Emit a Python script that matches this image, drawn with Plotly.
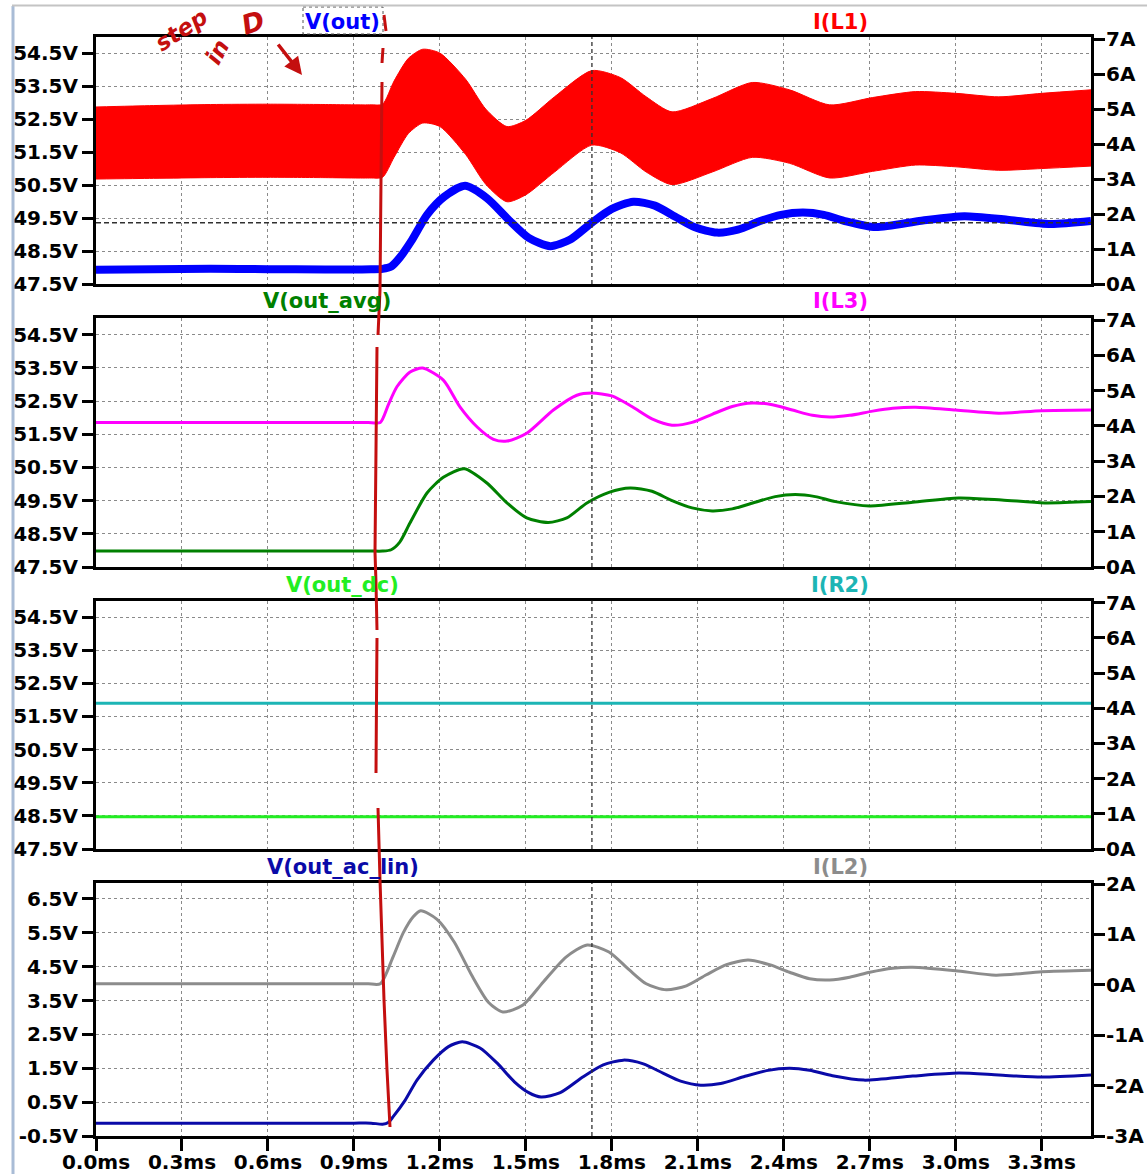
import plotly.graph_objects as go

# page (browser window) size; body margin is removed by a post script
W, H = 1147, 1174
OFF = 0
FW, FH = W - OFF, H - OFF

# ------------------------------------------------------------------ data
TIME_MAX_MS = 3.472
X_TICKS = [0.0, 0.3, 0.6, 0.9, 1.2, 1.5, 1.8, 2.1, 2.4, 2.7, 3.0, 3.3]
X_TICK_TEXT = ["0.0ms", "0.3ms", "0.6ms", "0.9ms", "1.2ms", "1.5ms", "1.8ms",
               "2.1ms", "2.4ms", "2.7ms", "3.0ms", "3.3ms"]

V_TICKS = [47.5, 48.5, 49.5, 50.5, 51.5, 52.5, 53.5, 54.5]
V_TICK_TEXT = ["47.5V", "48.5V", "49.5V", "50.5V", "51.5V", "52.5V", "53.5V", "54.5V"]
A_TICKS = [0, 1, 2, 3, 4, 5, 6, 7]
A_TICK_TEXT = ["0A", "1A", "2A", "3A", "4A", "5A", "6A", "7A"]

V_TICKS_AC = [-0.5, 0.5, 1.5, 2.5, 3.5, 4.5, 5.5, 6.5]
V_TICK_TEXT_AC = ["-0.5V", "0.5V", "1.5V", "2.5V", "3.5V", "4.5V", "5.5V", "6.5V"]
A_TICKS_AC = [-3, -2, -1, 0, 1, 2]
A_TICK_TEXT_AC = ["-3A", "-2A", "-1A", "0A", "1A", "2A"]

# panel 1: V(out) (thick, switching ripple) and I(L1) ripple envelope
T_VOUT = [0.0, 0.2, 0.4, 0.6, 0.8, 0.9, 0.96, 1.0, 1.03, 1.06, 1.1, 1.155, 1.215,
          1.288, 1.365, 1.44, 1.51, 1.585, 1.655, 1.73, 1.80, 1.875, 1.95, 2.02,
          2.09, 2.167, 2.24, 2.32, 2.39, 2.467, 2.54, 2.61, 2.72, 2.88, 3.03,
          3.18, 3.33, 3.472]
V_OUT = [47.93, 47.95, 47.96, 47.95, 47.94, 47.94, 47.95, 47.96, 48.03, 48.3,
         48.8, 49.6, 50.15, 50.48, 50.1, 49.45, 48.9, 48.65, 48.85, 49.36, 49.78,
         50.0, 49.88, 49.55, 49.22, 49.06, 49.15, 49.42, 49.6, 49.67, 49.6, 49.42,
         49.23, 49.42, 49.56, 49.45, 49.32, 49.41]

T_IL1 = [0.0, 0.2, 0.4, 0.6, 0.8, 0.9, 0.96, 1.0, 1.04, 1.09, 1.14, 1.2, 1.29,
         1.36, 1.434, 1.5, 1.6, 1.73, 1.83, 1.92, 2.01, 2.15, 2.29, 2.42, 2.56,
         2.71, 2.86, 3.0, 3.15, 3.3, 3.472]
IL1_UPPER = [5.06, 5.1, 5.13, 5.14, 5.13, 5.12, 5.12, 5.14, 5.8, 6.45, 6.71,
             6.6, 5.85, 5.0, 4.5, 4.68, 5.35, 6.1, 5.9, 5.35, 4.92, 5.3, 5.76,
             5.55, 5.12, 5.33, 5.5, 5.45, 5.35, 5.45, 5.55]
IL1_LOWER = [3.0, 3.02, 3.04, 3.05, 3.04, 3.03, 3.03, 3.05, 3.62, 4.3, 4.6, 4.5,
             3.7, 2.85, 2.35, 2.55, 3.2, 3.97, 3.75, 3.2, 2.84, 3.2, 3.62, 3.45,
             3.03, 3.22, 3.4, 3.35, 3.25, 3.3, 3.37]

# panel 2: V(out_avg), I(L3)
T_AVG = [0.0, 0.2, 0.4, 0.6, 0.8, 0.9, 0.96, 1.0, 1.03, 1.06, 1.096, 1.155,
         1.212, 1.285, 1.364, 1.434, 1.503, 1.578, 1.643, 1.713, 1.79, 1.864,
         1.94, 2.01, 2.08, 2.15, 2.22, 2.3, 2.37, 2.44, 2.51, 2.58, 2.7, 2.85,
         3.01, 3.16, 3.31, 3.472]
V_AVG = [47.98, 47.98, 47.98, 47.98, 47.98, 47.98, 47.98, 47.98, 48.02, 48.25,
         48.83, 49.73, 50.2, 50.46, 50.03, 49.43, 48.98, 48.84, 48.98, 49.43,
         49.75, 49.88, 49.78, 49.5, 49.28, 49.19, 49.25, 49.45, 49.62, 49.68,
         49.62, 49.47, 49.34, 49.45, 49.58, 49.52, 49.43, 49.47]

T_L3 = [0.0, 0.2, 0.4, 0.6, 0.8, 0.9, 0.95, 0.992, 1.02, 1.05, 1.096, 1.14,
        1.212, 1.27, 1.33, 1.387, 1.434, 1.503, 1.596, 1.678, 1.73, 1.8, 1.87,
        1.94, 2.01, 2.08, 2.15, 2.22, 2.29, 2.36, 2.43, 2.5, 2.56, 2.63, 2.71,
        2.78, 2.86, 3.0, 3.15, 3.3, 3.472]
I_L3 = [4.1, 4.1, 4.1, 4.1, 4.1, 4.1, 4.1, 4.1, 4.6, 5.11, 5.53, 5.64, 5.3, 4.54,
        3.97, 3.62, 3.57, 3.79, 4.45, 4.87, 4.93, 4.85, 4.55, 4.2, 4.02, 4.1,
        4.33, 4.55, 4.65, 4.6, 4.45, 4.3, 4.25, 4.3, 4.42, 4.5, 4.53, 4.45, 4.36,
        4.43, 4.45]

# panel 3: V(out_dc), I(R2)
T_DC = [0.0, 3.472]
V_DC = [48.47, 48.47]
I_R2 = [4.14, 4.14]

# panel 4: V(out_ac_lin), I(L2)
T_AC = [0.0, 0.2, 0.4, 0.6, 0.8, 0.9, 0.96, 1.0, 1.02, 1.037, 1.079, 1.12,
        1.177, 1.23, 1.278, 1.34, 1.4, 1.46, 1.51, 1.553, 1.62, 1.7, 1.77, 1.84,
        1.91, 1.98, 2.04, 2.11, 2.18, 2.26, 2.34, 2.42, 2.49, 2.57, 2.68, 2.85,
        3.01, 3.15, 3.3, 3.472]
V_AC = [-0.12, -0.12, -0.12, -0.12, -0.12, -0.12, -0.12, -0.15, -0.1, 0.07, 0.56,
        1.15, 1.74, 2.14, 2.28, 2.1, 1.65, 1.1, 0.78, 0.65, 0.78, 1.25, 1.6, 1.74,
        1.63, 1.35, 1.12, 1.0, 1.05, 1.25, 1.43, 1.5, 1.44, 1.28, 1.15, 1.27,
        1.36, 1.3, 1.24, 1.3]

T_L2 = [0.0, 0.2, 0.4, 0.6, 0.8, 0.9, 0.95, 0.992, 1.037, 1.072, 1.107, 1.133,
        1.19, 1.25, 1.31, 1.37, 1.42, 1.49, 1.56, 1.64, 1.714, 1.79, 1.86, 1.92,
        1.99, 2.06, 2.13, 2.2, 2.275, 2.35, 2.42, 2.49, 2.56, 2.63, 2.7, 2.78,
        2.85, 3.0, 3.14, 3.3, 3.472]
I_L2 = [0.02, 0.02, 0.02, 0.02, 0.02, 0.02, 0.02, 0.02, 0.56, 1.03, 1.35, 1.47,
        1.3, 0.85, 0.2, -0.35, -0.54, -0.4, 0.05, 0.55, 0.79, 0.65, 0.3, 0.02,
        -0.1, -0.02, 0.2, 0.4, 0.49, 0.4, 0.25, 0.12, 0.095, 0.15, 0.25, 0.33,
        0.35, 0.28, 0.19, 0.26, 0.29]

CURSOR_T = 1.7305
CURSOR_V = 49.36

# ------------------------------------------------------------------ layout helpers
def px(x, y):
    """page pixel -> paper coordinates of the figure"""
    return (x - OFF) / FW, 1 - (y - OFF) / FH


def xn(i):
    return "x" if i == 1 else f"x{i}"


def yn(i):
    return "y" if i == 1 else f"y{i}"


FONT = "DejaVu Sans"
X_DOM = [px(96, 0)[0], px(1091, 0)[0]]
PANELS = [  # (top px, bottom px) on the page
    (37, 284), (318, 567), (600.5, 849), (883, 1136)
]

fig = go.Figure()

GRID = dict(showgrid=True, gridcolor="#8a8a8a", griddash="3px,3px", gridwidth=1.2)
TICKFONT = dict(family=FONT, size=20, color="black", weight="bold")

layout = dict(
    width=FW, height=FH, autosize=False,
    margin=dict(l=0, r=0, t=0, b=0, pad=0),
    paper_bgcolor="white", plot_bgcolor="white",
    showlegend=False,
)

for i, (top, bot) in enumerate(PANELS, start=1):
    ydom = [px(0, bot)[1], px(0, top)[1]]
    base = 2 * i - 1
    over = 2 * i
    xa = dict(domain=X_DOM, range=[0, TIME_MAX_MS], anchor=yn(base), automargin=False,
              tickvals=X_TICKS, ticktext=X_TICK_TEXT, zeroline=False,
              showline=True, mirror=True, linecolor="black", linewidth=3,
              **GRID)
    if i == 4:
        xa.update(ticks="outside", ticklen=12, tickwidth=3, tickcolor="black",
                  tickfont=TICKFONT, showticklabels=True, ticklabelstandoff=-6)
    else:
        xa.update(ticks="", showticklabels=False)
    layout["xaxis" if i == 1 else f"xaxis{i}"] = xa
    if i < 4:
        arng, atv, att = [0, 7.06], A_TICKS, A_TICK_TEXT
        vrng, vtv, vtt = [47.5, 55.0], V_TICKS, V_TICK_TEXT
    else:
        arng, atv, att = [-3, 2.02], A_TICKS_AC, A_TICK_TEXT_AC
        vrng, vtv, vtt = [-0.5, 6.97], V_TICKS_AC, V_TICK_TEXT_AC
    layout["yaxis" if base == 1 else f"yaxis{base}"] = dict(
        domain=ydom, anchor=xn(i), side="right", range=arng, automargin=False,
        tickvals=atv, ticktext=att, showgrid=False, zeroline=False,
        showline=True, linecolor="black", linewidth=3,
        ticks="outside", ticklen=11, tickwidth=3, tickcolor="black",
        tickfont=TICKFONT, ticklabelstandoff=-3)
    layout[f"yaxis{over}"] = dict(
        domain=ydom, anchor=xn(i), side="left", overlaying=yn(base), automargin=False,
        range=vrng, tickvals=vtv, ticktext=vtt, zeroline=False,
        showline=True, linecolor="black", linewidth=3,
        ticks="outside", ticklen=11, tickwidth=3, tickcolor="black",
        tickfont=TICKFONT, ticklabelstandoff=0, **GRID)

fig.update_layout(**layout)

SPL = dict(shape="spline", smoothing=0.7)

# panel 1
fig.add_trace(go.Scatter(x=T_IL1, y=IL1_LOWER, xaxis=xn(1), yaxis=yn(1), mode="lines",
                         line=dict(color="#ff0000", width=1, **SPL), hoverinfo="skip"))
fig.add_trace(go.Scatter(x=T_IL1, y=IL1_UPPER, xaxis=xn(1), yaxis=yn(1), mode="lines",
                         line=dict(color="#ff0000", width=1, **SPL), fill="tonexty",
                         fillcolor="#ff0000", name="I(L1)"))
fig.add_trace(go.Scatter(x=T_VOUT, y=V_OUT, xaxis=xn(1), yaxis=yn(2), mode="lines",
                         line=dict(color="#0000ff", width=8, **SPL), name="V(out)"))
# panel 2
fig.add_trace(go.Scatter(x=T_L3, y=I_L3, xaxis=xn(2), yaxis=yn(3), mode="lines",
                         line=dict(color="#ff00ff", width=3, **SPL), name="I(L3)"))
fig.add_trace(go.Scatter(x=T_AVG, y=V_AVG, xaxis=xn(2), yaxis=yn(4), mode="lines",
                         line=dict(color="#008000", width=3, **SPL), name="V(out_avg)"))
# panel 3
fig.add_trace(go.Scatter(x=T_DC, y=I_R2, xaxis=xn(3), yaxis=yn(5), mode="lines",
                         line=dict(color="#1cb5b5", width=3), name="I(R2)"))
fig.add_trace(go.Scatter(x=T_DC, y=V_DC, xaxis=xn(3), yaxis=yn(6), mode="lines",
                         line=dict(color="#22ee22", width=3), name="V(out_dc)"))
# panel 4
fig.add_trace(go.Scatter(x=T_L2, y=I_L2, xaxis=xn(4), yaxis=yn(7), mode="lines",
                         line=dict(color="#8c8c8c", width=3, **SPL), name="I(L2)"))
fig.add_trace(go.Scatter(x=T_AC, y=V_AC, xaxis=xn(4), yaxis=yn(8), mode="lines",
                         line=dict(color="#0a0aa8", width=3, **SPL), name="V(out_ac_lin)"))

# ------------------------------------------------------------------ trace labels
LABELS = [
    ("V(out)", "#0000ff", 342.5, 21.5), ("I(L1)", "#ff0000", 840, 21.5),
    ("V(out_avg)", "#008000", 327, 301), ("I(L3)", "#ff00ff", 840, 301),
    ("V(out_dc)", "#22ee22", 342.5, 585), ("I(R2)", "#1cb5b5", 840, 585),
    ("V(out_ac_lin)", "#0a0aa8", 342.5, 867), ("I(L2)", "#8c8c8c", 840, 867),
]
for txt, col, x, y in LABELS:
    ax, ay = px(x, y)
    fig.add_annotation(text=txt, x=ax, y=ay, xref="paper", yref="paper",
                       showarrow=False, xanchor="center", yanchor="middle",
                       font=dict(family=FONT, size=21, color=col, weight="bold"))

shapes = []
# selection box around V(out)
x0, y0 = px(303, 7)
x1, y1 = px(383, 34)
shapes.append(dict(type="rect", xref="paper", yref="paper", x0=x0, y0=y0, x1=x1, y1=y1,
                   line=dict(color="#555", width=1, dash="dot")))
# cursor
for i in range(1, 5):
    shapes.append(dict(type="line", xref=xn(i), yref=f"{yn(2*i-1)} domain",
                       x0=CURSOR_T, x1=CURSOR_T, y0=0, y1=1,
                       line=dict(color="#303030", width=1.3, dash="4px,3px")))
shapes.append(dict(type="line", xref="x domain", yref=yn(2), x0=0, x1=1,
                   y0=CURSOR_V, y1=CURSOR_V,
                   line=dict(color="#303030", width=1.5, dash="5px,3px")))

# hand-drawn red marker line
HAND = "#c40f0f"
SEGMENTS = [
    [(384, 15), (386, 31)],
    [(383, 48), (382, 63)],
    [(382, 82), (381, 180), (380, 290), (378, 335)],
    [(377, 347), (376, 450), (375, 552), (376, 583), (377, 630)],
    [(377, 638), (376.5, 700), (376, 773)],
    [(378, 808), (380, 880), (384, 1000), (387, 1070), (390, 1127)],
]
for seg in SEGMENTS:
    pts = [px(a, b) for a, b in seg]
    path = "M " + " L ".join(f"{a:.5f},{b:.5f}" for a, b in pts)
    shapes.append(dict(type="path", xref="paper", yref="paper", path=path,
                       line=dict(color=HAND, width=3)))

# handwriting ("step in D") and arrow
HW = [("step", 181, 30, -33, 23), ("in", 217, 52, -62, 23), ("D", 253, 23, -18, 27)]
for txt, x, y, ang, sz in HW:
    ax, ay = px(x, y)
    fig.add_annotation(text=txt, x=ax, y=ay, xref="paper", yref="paper", showarrow=False,
                       xanchor="center", yanchor="middle", textangle=ang,
                       font=dict(family="DejaVu Sans", size=sz, color=HAND,
                                 weight="bold", style="italic"))
ax, ay = px(302, 75)
fig.add_annotation(x=ax, y=ay, xref="paper", yref="paper", ax=-25, ay=-32, text="",
                   showarrow=True, arrowhead=2, arrowsize=1, arrowwidth=3.5, arrowcolor=HAND)

# window decorations
x0, y0 = px(13, 6)
x1, y1 = px(13, H)
shapes.append(dict(type="line", xref="paper", yref="paper", x0=x0, y0=y0, x1=x1, y1=y1,
                   line=dict(color="#a9bcd6", width=3)))
x0, y0 = px(12, 5.5)
x1, y1 = px(W, 5.5)
shapes.append(dict(type="line", xref="paper", yref="paper", x0=x0, y0=y0, x1=x1, y1=y1,
                   line=dict(color="#c4c4c4", width=2)))
fig.update_layout(shapes=shapes)

fig.write_html("out.html", config={"displayModeBar": False},
               post_script="document.body.style.margin='0';"
                           "document.body.style.overflow='hidden';")
